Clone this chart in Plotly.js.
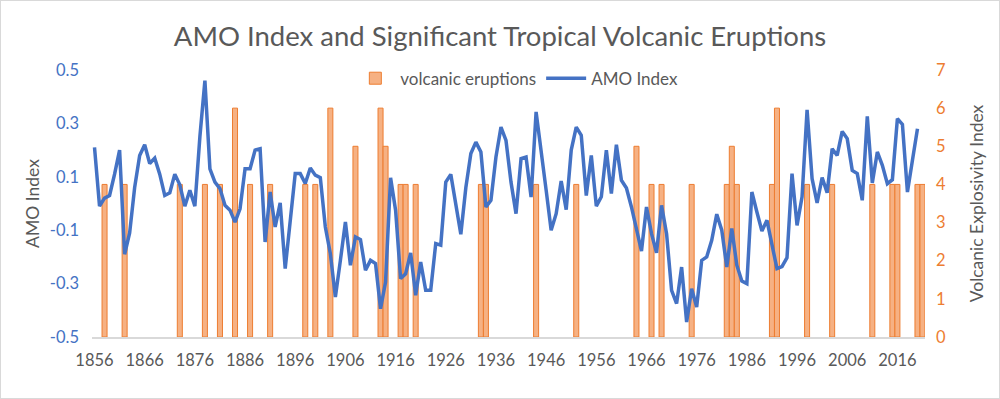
<!DOCTYPE html>
<html>
<head>
<meta charset="utf-8">
<script src="https://cdn.plot.ly/plotly-3.0.1.min.js"></script>
<style>
  html, body { margin: 0; padding: 0; background: #fff; }
  #wrap { position: relative; width: 1000px; height: 399px; }
  #chart { width: 1000px; height: 399px; }
  #frame { position: absolute; left: 0; top: 0; width: 998px; height: 397px; border: 1px solid #d9d9d9; pointer-events: none; }
</style>
</head>
<body>
<div id="wrap"><div id="chart"></div><div id="frame"></div></div>
<script>
// AMO index, one value per year from 1856 to 2020
const amoYears = [
  1856,1857,1858,1859,1860,1861,1862,1863,1864,1865,1866,1867,1868,1869,1870,1871,1872,1873,1874,1875,
  1876,1877,1878,1879,1880,1881,1882,1883,1884,1885,1886,1887,1888,1889,1890,1891,1892,1893,1894,1895,
  1896,1897,1898,1899,1900,1901,1902,1903,1904,1905,1906,1907,1908,1909,1910,1911,1912,1913,1914,1915,
  1916,1917,1918,1919,1920,1921,1922,1923,1924,1925,1926,1927,1928,1929,1930,1931,1932,1933,1934,1935,
  1936,1937,1938,1939,1940,1941,1942,1943,1944,1945,1946,1947,1948,1949,1950,1951,1952,1953,1954,1955,
  1956,1957,1958,1959,1960,1961,1962,1963,1964,1965,1966,1967,1968,1969,1970,1971,1972,1973,1974,1975,
  1976,1977,1978,1979,1980,1981,1982,1983,1984,1985,1986,1987,1988,1989,1990,1991,1992,1993,1994,1995,
  1996,1997,1998,1999,2000,2001,2002,2003,2004,2005,2006,2007,2008,2009,2010,2011,2012,2013,2014,2015,
  2016,2017,2018,2019,2020
];
const amoIndex = [
  0.21,-0.01,0.02,0.03,0.11,0.20,-0.19,-0.11,0.06,0.18,0.22,0.15,0.17,0.11,0.03,0.04,0.11,0.07,-0.01,0.05,
  -0.01,0.25,0.46,0.13,0.08,0.056,-0.007,-0.025,-0.07,-0.02,0.13,0.13,0.20,0.205,-0.144,0.043,-0.088,0.002,-0.244,-0.063,
  0.112,0.112,0.075,0.133,0.106,0.097,-0.088,-0.188,-0.35,-0.213,-0.069,-0.231,-0.125,-0.135,-0.25,-0.213,-0.225,-0.394,-0.294,0.096,
  -0.025,-0.281,-0.263,-0.185,-0.344,-0.219,-0.325,-0.325,-0.15,-0.156,0.08,0.109,-0.013,-0.115,0.06,0.187,0.23,0.193,-0.013,0.012,
  0.174,0.286,0.236,0.08,-0.038,0.168,0.174,0.024,0.343,0.205,0.05,-0.1,-0.038,0.084,-0.023,0.2,0.286,0.255,0.03,0.18,
  -0.01,0.025,0.2,0.037,0.22,0.087,0.058,-0.013,-0.1,-0.178,-0.013,-0.113,-0.185,-0.007,-0.113,-0.325,-0.375,-0.238,-0.444,-0.319,
  -0.388,-0.213,-0.2,-0.138,-0.04,-0.1,-0.238,-0.094,-0.231,-0.29,-0.3,0.043,-0.032,-0.103,-0.063,-0.157,-0.244,-0.236,-0.203,0.112,
  -0.082,0.025,0.351,0.093,0.002,0.097,0.04,0.205,0.18,0.27,0.243,0.124,0.112,0.012,0.326,0.077,0.193,0.143,0.074,0.089,
  0.318,0.296,0.043,0.162,0.28
];
// Significant tropical volcanic eruptions (year, VEI)
const eruptionYears = [1858,1862,1873,1878,1881,1884,1887,1891,1898,1900,1903,1908,1913,1914,1917,1918,1920,
  1933,1934,1944,1952,1964,1967,1969,1975,1982,1983,1984,1991,1992,1998,2003,2011,2015,2016,2020,2021];
const eruptionVEI = [4,4,4,4,4,6,4,4,4,4,6,5,6,5,4,4,4,
  4,4,4,4,5,4,4,4,4,5,4,4,6,4,4,4,4,4,4,4];
const xTickYears = [1856,1866,1876,1886,1896,1906,1916,1926,1936,1946,1956,1966,1976,1986,1996,2006,2016];
const amoTicks = [-0.5,-0.3,-0.1,0.1,0.3,0.5];
const amoTickText = ["-0.5","-0.3","-0.1","0.1","0.3","0.5"];
const veiTicks = [0,1,2,3,4,5,6,7];

const FONT = "Lato, 'Open Sans', sans-serif";
const GREY = "#595959";
const BLUE = "#4472C4";
const ORANGE = "#ED7D31";

const traces = [
  {
    type: "bar", name: "volcanic eruptions",
    x: eruptionYears, y: eruptionVEI, width: 1,
    marker: { color: "#F6B183", line: { color: ORANGE, width: 1 } },
    xaxis: "x", yaxis: "y", hoverinfo: "x+y"
  },
  {
    type: "scatter", mode: "lines", name: "AMO Index",
    x: amoYears, y: amoIndex,
    line: { color: BLUE, width: 3.5 },
    xaxis: "x", yaxis: "y2"
  }
];

const layout = {
  width: 1000, height: 399,
  margin: { l: 92, r: 75, t: 70, b: 62 },
  paper_bgcolor: "#fff", plot_bgcolor: "#fff",
  font: { family: FONT, color: GREY, size: 16 },
  title: { text: "AMO Index and Significant Tropical Volcanic Eruptions",
           font: { family: FONT, size: 27.5, color: GREY }, x: 0.5, xanchor: "center", y: 0.91, yanchor: "middle" },
  showlegend: true,
  legend: { orientation: "h", x: 0.51, xanchor: "center", y: 1.035, yanchor: "top",
            font: { family: FONT, size: 17, color: GREY }, bgcolor: "rgba(0,0,0,0)", itemwidth: 40 },
  xaxis: {
    type: "linear", range: [1855.5, 2021.5],
    tickmode: "array", tickvals: xTickYears, ticktext: xTickYears.map(String),
    showgrid: false, zeroline: false, showline: true, linecolor: "#d9d9d9", linewidth: 1.5,
    ticks: "", tickfont: { family: FONT, size: 16.5, color: GREY }, ticklabelstandoff: 8
  },
  yaxis: {
    range: [0, 7], tickmode: "array", tickvals: veiTicks, side: "right",
    showgrid: false, zeroline: false, showline: false, ticks: "",
    tickfont: { family: FONT, size: 16.5, color: ORANGE }, ticklabelstandoff: 10,
    title: { text: "Volcanic Explosivity Index", font: { family: FONT, size: 17.5, color: GREY }, standoff: 25 }
  },
  yaxis2: {
    range: [-0.5, 0.5], overlaying: "y", side: "left",
    tickmode: "array", tickvals: amoTicks, ticktext: amoTickText,
    showgrid: false, zeroline: false, showline: false, ticks: "",
    tickfont: { family: FONT, size: 16.5, color: BLUE }, ticklabelstandoff: 12,
    title: { text: "AMO Index", font: { family: FONT, size: 17.5, color: GREY }, standoff: 5 }
  },
  bargap: 0
};

Plotly.newPlot("chart", traces, layout, { displayModeBar: false, staticPlot: true });
</script>
</body>
</html>
